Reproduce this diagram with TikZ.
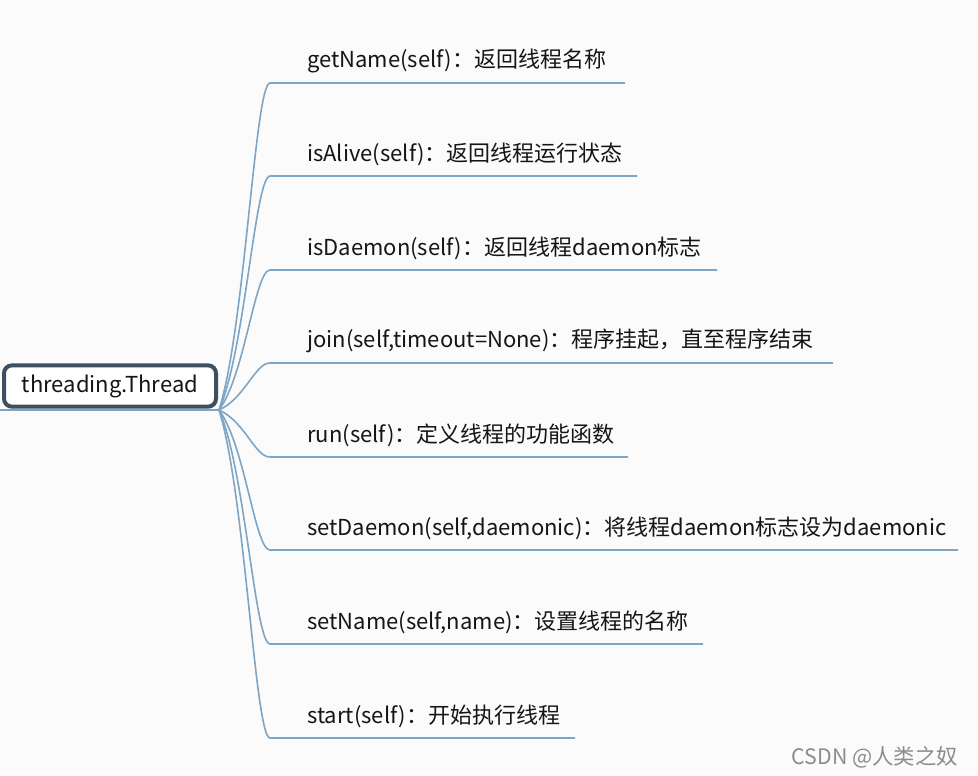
\documentclass[tikz,border=0pt]{standalone}
\usepackage{fontspec}
\setmainfont{Noto Sans CJK SC}
\usepackage{tikz}
\usetikzlibrary{positioning}
\definecolor{bgcol}{HTML}{FBFBFC}
\definecolor{linecol}{HTML}{7DA5C5}
\definecolor{rimcol}{HTML}{3E5060}
\definecolor{inkcol}{HTML}{151515}

\begin{document}
\begin{tikzpicture}[x=0.75pt, y=-0.75pt,
  rootbox/.style={draw=rimcol, line width=3pt, rounded corners=6pt, fill=white,
    minimum width=159pt, minimum height=31pt, inner sep=0pt, text=inkcol,
    font=\fontsize{16.5}{19}\selectfont},
  leaf/.style={anchor=west, inner sep=0pt, text=inkcol, font=\fontsize{16.5}{19}\selectfont},
  branch/.style={draw=linecol, line width=1.2pt}]
\path[use as bounding box, fill=bgcol] (0,0) rectangle (978,775);
\node[rootbox] (root) at (110,386) {threading.Thread};
\coordinate (hub) at (219,410);
\coordinate (tail) at (0,410);
\draw[branch] (tail) -- (hub);
\foreach \i/\y/\xe/\txt in {
  1/83/625/{getName(self)：返回线程名称},
  2/176/637/{isAlive(self)：返回线程运行状态},
  3/270/717/{isDaemon(self)：返回线程daemon标志},
  4/363/833/{join(self,timeout=None)：程序挂起，直至程序结束},
  5/457/628/{run(self)：定义线程的功能函数},
  6/550/958/{setDaemon(self,daemonic)：将线程daemon标志设为daemonic},
  7/644/703/{setName(self,name)：设置线程的名称},
  8/738/575/{start(self)：开始执行线程}} {
  \node[leaf] (t\i) at (307,\y-22) {\txt};
  \coordinate (u\i) at (270,\y);
  \coordinate (v\i) at (\xe,\y);
  \draw[branch] (hub) .. controls +(26,{0.25*(\y-410)}) and +(-15,0) .. (u\i) -- (v\i);
}
\node[anchor=east, inner sep=0pt, text=black!45, font=\fontsize{16}{18}\selectfont]
  (mark) at (958,757) {CSDN @人类之奴};
\end{tikzpicture}
\end{document}
